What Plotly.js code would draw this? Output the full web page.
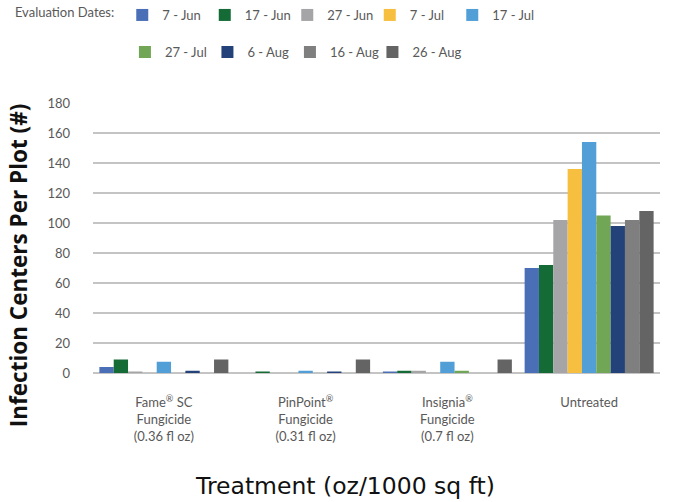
<!DOCTYPE html>
<html><head><meta charset="utf-8">
<script src="https://cdn.plot.ly/plotly-3.0.1.min.js"></script>
<style>html,body{margin:0;padding:0;background:#fff;}#chart{width:679px;height:502px;}</style>
</head><body><div id="chart"></div>
<script>
const categories = ["Fame<sup>®</sup> SC<br>Fungicide<br>(0.36 fl oz)", "PinPoint<sup>®</sup><br>Fungicide<br>(0.31 fl oz)", "Insignia<sup>®</sup><br>Fungicide<br>(0.7 fl oz)", "Untreated"];
const dates = ["7 - Jun", "17 - Jun", "27 - Jun", "7 - Jul", "17 - Jul", "27 - Jul", "6 - Aug", "16 - Aug", "26 - Aug"];
const colors = ["#4A6FB7", "#156B35", "#A5A4A6", "#F6BF40", "#529FD8", "#70A656", "#24427A", "#7F7F7F", "#646464"];
const jun7  = [4, 0, 1, 70];
const jun17 = [9, 1, 1.5, 72];
const jun27 = [1, 0, 1.5, 102];
const jul7  = [0, 0, 0, 136];
const jul17 = [7.5, 1.5, 7.5, 154];
const jul27 = [0, 0, 1.5, 105];
const aug6  = [1.5, 1, 0, 98];
const aug16 = [0, 0, 0, 102];
const aug26 = [9, 9, 9, 108];
const series = [jun7, jun17, jun27, jul7, jul17, jul27, aug6, aug16, aug26];
const yTicks = [0, 20, 40, 60, 80, 100, 120, 140, 160, 180];

const traces = series.map((vals, i) => {
  const t = {
    type: "bar", x: categories, y: vals, name: dates[i],
    marker: {color: colors[i]},
    legend: i < 5 ? "legend" : "legend2",
    hoverinfo: "skip"
  };
  if (i === 4 || i === 8) t.legendwidth = 60;
  return t;
});

const layout = {
  width: 679, height: 502,
  margin: {l: 93, r: 19, t: 103, b: 129},
  paper_bgcolor: "#fff", plot_bgcolor: "#fff",
  font: {family: "Lato, sans-serif", size: 13, color: "#595959"},
  barmode: "group", bargap: 0.09, bargroupgap: 0,
  showlegend: true,
  legend: {
    orientation: "h", xref: "container", yref: "container",
    x: 0.019, y: 1.0, xanchor: "left", yanchor: "top",
    title: {text: "Evaluation Dates:", side: "left", font: {size: 13, color: "#595959"}},
    font: {size: 13, color: "#595959"},
    entrywidth: 37.5, entrywidthmode: "pixels",
    traceorder: "normal"
  },
  legend2: {
    orientation: "h", xref: "container", yref: "container",
    x: 0.184, y: 0.926, xanchor: "left", yanchor: "top",
    font: {size: 13, color: "#595959"},
    entrywidth: 37.5, entrywidthmode: "pixels",
    traceorder: "normal"
  },
  xaxis: {
    type: "category", showgrid: false, zeroline: false,
    showline: false, ticks: "", ticklabelstandoff: 20,
    tickfont: {size: 13, color: "#595959"}
  },
  yaxis: {
    range: [0, 180], tickvals: yTicks, ticktext: yTicks.map(String),
    showgrid: true, gridcolor: "#C4C4C4", gridwidth: 1.5,
    zeroline: true, zerolinecolor: "#C4C4C4", zerolinewidth: 2,
    showline: false, ticks: "", ticklabelstandoff: 22,
    tickfont: {size: 13, color: "#595959"}
  },
  annotations: [
    {text: "<b>Infection Centers Per Plot (#)</b>", xref: "paper", yref: "paper",
     x: -0.132, y: 0.4, textangle: -90, showarrow: false, xanchor: "center", yanchor: "middle",
     font: {family: "Open Sans, sans-serif", size: 22.5, color: "#111"}},
    {text: "Treatment (oz/1000 sq ft)", xref: "paper", yref: "paper",
     x: 0.445, y: -0.42, showarrow: false, xanchor: "center", yanchor: "middle",
     font: {family: "DejaVu Sans, sans-serif", size: 23.5, color: "#111"}}
  ]
};
Plotly.newPlot("chart", traces, layout, {displayModeBar: false, staticPlot: true});
</script></body></html>
